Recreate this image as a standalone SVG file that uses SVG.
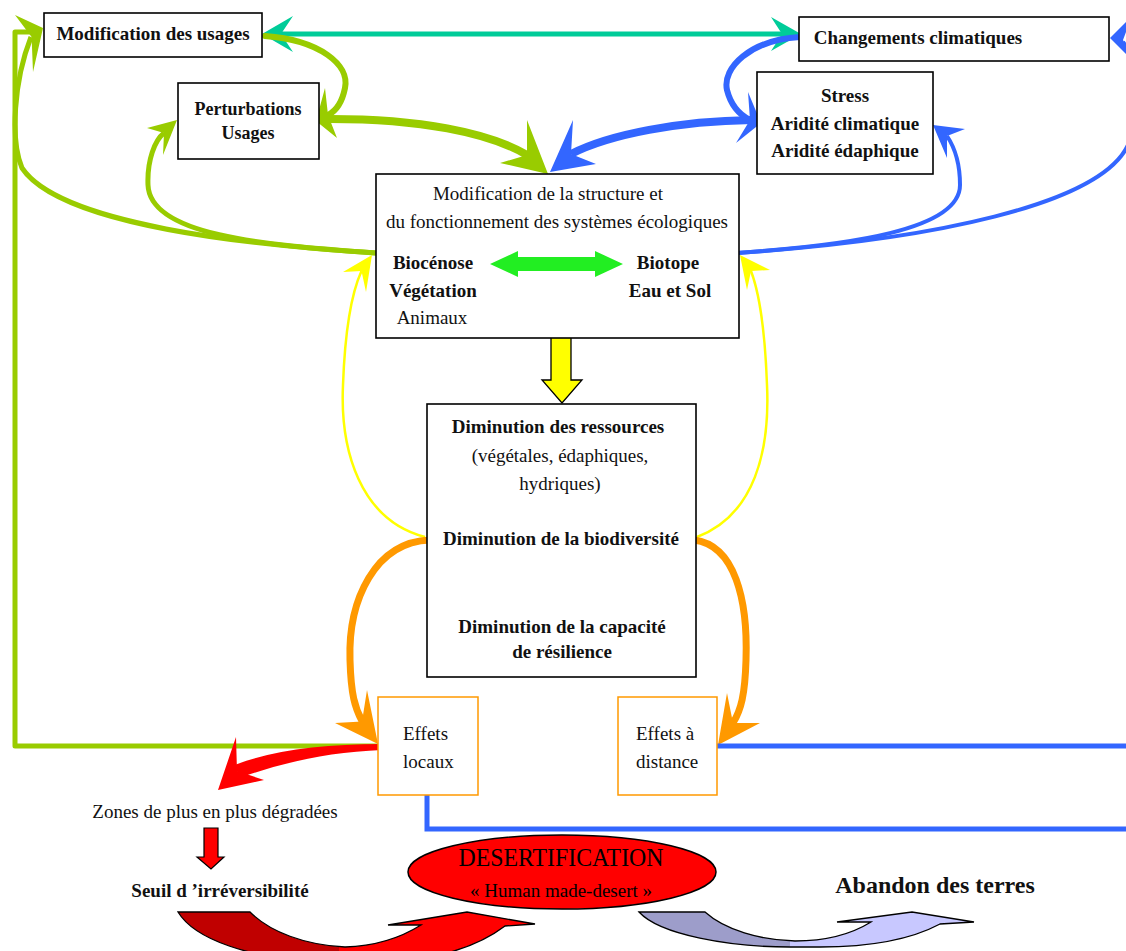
<svg xmlns="http://www.w3.org/2000/svg" width="1126" height="951" viewBox="0 0 1126 951">
<defs>
<style>
.box{fill:#fff;stroke:#000;stroke-width:1.6}
.obox{fill:#fff;stroke:#ff9900;stroke-width:1.5}
.t{font-family:"Liberation Serif","Times New Roman",serif;font-size:19px;fill:#111}
.b{font-weight:bold}
.c{text-anchor:middle}
.ln{fill:none}
.g{stroke:#99cc00}
.gf{fill:#99cc00}
.bl{stroke:#3366ff}
.bf{fill:#3366ff}
.y{stroke:#ffff00}
.yf{fill:#ffff00}
.o{stroke:#ff9900}
.of{fill:#ff9900}
.tl{stroke:#00cc99}
.tf{fill:#00cc99}
.rf{fill:#ff0000}
</style>
<marker id="vhead" viewBox="-8 -5 10 10" refX="0" refY="0" markerWidth="10" markerHeight="10" markerUnits="userSpaceOnUse" orient="auto">
<path d="M-7,-4 L0,0 L-7,4" fill="none" stroke="#000" stroke-width="1.3"/>
</marker>
<linearGradient id="redg" x1="178" x2="535" y1="0" y2="0" gradientUnits="userSpaceOnUse">
<stop offset="0" stop-color="#c00000"/><stop offset="0.45" stop-color="#c00000"/><stop offset="0.45" stop-color="#ff0000"/><stop offset="1" stop-color="#ff0000"/>
</linearGradient>
<linearGradient id="lavg" x1="639" x2="974" y1="0" y2="0" gradientUnits="userSpaceOnUse">
<stop offset="0" stop-color="#9d9dca"/><stop offset="0.45" stop-color="#9d9dca"/><stop offset="0.45" stop-color="#c8c8ff"/><stop offset="1" stop-color="#c8c8ff"/>
</linearGradient>
</defs>

<g id="connectors">
  <!-- teal double arrow -->
  <path class="ln tl" stroke-width="5" d="M281,34 H782"/>
  <polygon class="tf" points="262,34 293,16 281,34 293,52"/>
  <polygon class="tf" points="801,34 771,17 782,34 771,51"/>

  <!-- green: Modification des usages -> Perturbations -->
  <path class="ln g" stroke-width="6" stroke-linecap="round" d="M265,36 C320,40 350,65 345,88 C342,103 336,111 328,115"/>
  <polygon class="gf" points="316,121 325,88 328,115 337,138"/>
  <!-- green thick: Perturbations -> central -->
  <path class="ln g" stroke-width="8" stroke-linecap="round" d="M321,119 C420,118 490,133 527,155"/>
  <polygon class="gf" points="548,174 527,120 527,155 500,163"/>
  <!-- blue thick: Stress -> central -->
  <path class="ln bl" stroke-width="8" d="M752,120 C680,121 610,134 571,154"/>
  <polygon class="bf" points="550,172 573,120 571,154 596,164"/>
  <!-- blue: Changements -> Stress -->
  <path class="ln bl" stroke-width="6" stroke-linecap="round" d="M800,37 C750,40 722,68 727,90 C731,106 740,115 750,120"/>
  <polygon class="bf" points="761,123 748,92 750,120 736,143"/>

  <!-- green left big curve to Modification des usages -->
  <path class="ln g" stroke-width="5" d="M376,253 C250,245 60,225 22,168 C10,140 14,80 31,37"/>
  <!-- green polyline from Effets locaux -->
  <path class="ln g" stroke-width="5" stroke-linejoin="round" d="M381,746 H15 V32 H36"/>
  <polygon class="gf" points="43,28 15,15 31.6,37 33,72"/>
  <!-- green thin curve to Perturbations -->
  <path class="ln g" stroke-width="5" d="M376,253 C260,245 150,235 148,185 C147,160 155,140 164,133"/>
  <polygon class="gf" points="177,120 147,128 164,133 163,155"/>

  <!-- blue curves from central right -->
  <path class="ln bl" stroke-width="4" d="M737,253 C850,245 960,230 960,185 C960,165 955,148 947,136"/>
  <polygon class="bf" points="933,125 965,129 947,136 947,158"/>
  <path class="ln bl" stroke-width="4" d="M737,253 C930,240 1100,205 1128,145 C1145,100 1138,62 1123,42"/>
  <polygon class="bf" points="1110,38 1132,16 1123,40 1136,64"/>

  <!-- yellow feedback arrows -->
  <path class="ln y" stroke-width="2.5" d="M425,537 C360,520 340,450 343,385 C345,330 352,292 361.5,271"/>
  <polygon class="yf" points="372,255 343,272 361.5,271 366,292"/>
  <path class="ln y" stroke-width="2.5" d="M697,537 C755,515 770,450 767,385 C765,330 760,295 751,271"/>
  <polygon class="yf" points="740,255 770,270 751,271 747,290"/>

  <!-- orange arrows -->
  <path class="ln o" stroke-width="7" stroke-linecap="round" d="M430,540 C375,542 348,600 350,660 C351,695 355,708 362,721"/>
  <polygon class="of" points="378,744 335,723 362,721.5 367,690"/>
  <path class="ln o" stroke-width="7" stroke-linecap="round" d="M694,540 C735,545 748,600 746,660 C745,695 741,710 733,723"/>
  <polygon class="of" points="718,745 760,723 733,723 727,693"/>

  <!-- blue lines from effets boxes -->
  <path class="ln bl" stroke-width="5" d="M716,746 H1126"/>
  <path class="ln bl" stroke-width="5" d="M427,792 V829 H1126"/>

  <!-- red arrow to zones -->
  <path class="rf" d="M382,744 C320,744 270,751 232,766 L242,777 C285,762 330,752 382,750 Z"/>
  <polygon class="rf" points="218,790 236,737 237,771 264,780"/>

  <!-- yellow block arrow -->
  <path d="M551,337 H571 V380 H582 L562,403 L542,380 H551 Z" fill="#ffff00" stroke="#000" stroke-width="1.3"/>

  <!-- small black arrows -->
  <path class="ln" stroke="#000" stroke-width="1.3" d="M552,492 V513" marker-end="url(#vhead)"/>
  <path class="ln" stroke="#000" stroke-width="1.3" d="M552,560 V590" marker-end="url(#vhead)"/>

  <!-- red down block arrow -->
  <path d="M204,828 H218 V857 H224 L211,869 L197,857 H204 Z" fill="#ff0000" stroke="#000" stroke-width="1.2"/>

  <!-- bottom curved arrows -->
  <path d="M178,912 L250,912 C270,932 305,945 345,947 C380,946 405,935 421,925 L388,925 L467,912 L535,924 L505,926 C480,945 440,960 380,962 L320,962 C250,958 195,940 178,912 Z" fill="url(#redg)" stroke="#000" stroke-width="1.3"/>
  <path d="M639,912 L705,912 C725,930 760,940 795,941 C825,941 850,935 871,922 L837,922 L912,912 L974,922 L940,924 C910,940 870,947 820,947 L790,947 C730,947 660,935 639,912 Z" fill="url(#lavg)" stroke="#000" stroke-width="1.3"/>
</g>

<g id="node-modif-usages">
  <rect class="box" x="44" y="13" width="218" height="44"/>
  <text class="t b c" x="153" y="40">Modification des usages</text>
</g>
<g id="node-perturbations">
  <rect class="box" x="178" y="83" width="141" height="76"/>
  <text class="t b c" x="248" y="115" style="font-size:18px">Perturbations</text>
  <text class="t b c" x="248" y="139" style="font-size:18px">Usages</text>
</g>
<g id="node-changements">
  <rect class="box" x="799" y="17" width="310" height="44"/>
  <text class="t b c" x="918" y="44">Changements climatiques</text>
</g>
<g id="node-stress">
  <rect class="box" x="757" y="72" width="176" height="102"/>
  <text class="t b c" x="845" y="102">Stress</text>
  <text class="t b c" x="845" y="130">Aridité climatique</text>
  <text class="t b c" x="845" y="157">Aridité édaphique</text>
</g>
<g id="node-structure">
  <rect class="box" x="376" y="174" width="363" height="164"/>
  <text class="t c" x="548" y="200">Modification de la structure et</text>
  <text class="t c" x="557" y="228">du fonctionnement des systèmes écologiques</text>
  <text class="t b c" x="433" y="269">Biocénose</text>
  <text class="t b c" x="433" y="297">Végétation</text>
  <text class="t c" x="432" y="324">Animaux</text>
  <text class="t b c" x="668" y="269">Biotope</text>
  <text class="t b c" x="670" y="297">Eau et Sol</text>
  <path d="M490,264 L518,251 L518,257 L595,257 L595,251 L623,264 L595,277 L595,271 L518,271 L518,277 Z" fill="#22ee22"/>
</g>
<g id="node-diminution">
  <rect class="box" x="427" y="404" width="269" height="273"/>
  <text class="t b c" x="558" y="433">Diminution des ressources</text>
  <text class="t c" x="560" y="462">(végétales, édaphiques,</text>
  <text class="t c" x="560" y="490">hydriques)</text>
  <text class="t b c" x="561" y="545">Diminution de la biodiversité</text>
  <text class="t b c" x="562" y="633">Diminution de la capacité</text>
  <text class="t b c" x="562" y="658">de résilience</text>
</g>
<g id="node-effets-locaux">
  <rect class="obox" x="378" y="697" width="100" height="98"/>
  <text class="t" x="403" y="740">Effets</text>
  <text class="t" x="403" y="768">locaux</text>
</g>
<g id="node-effets-distance">
  <rect class="obox" x="618" y="697" width="99" height="98"/>
  <text class="t" x="636" y="740">Effets à</text>
  <text class="t" x="636" y="768">distance</text>
</g>
<g id="node-zones">
  <text class="t c" x="215" y="818">Zones de plus en plus dégradées</text>
</g>
<g id="node-seuil">
  <text class="t b c" x="220" y="897">Seuil d ’irréversibilité</text>
</g>
<g id="node-desertification">
  <ellipse cx="562" cy="872" rx="154" ry="37" fill="#ff0000" stroke="#000" stroke-width="1.5"/>
  <text class="t c" x="561" y="866" style="font-size:26px;fill:#000" textLength="205" lengthAdjust="spacingAndGlyphs">DESERTIFICATION</text>
  <text class="t c" x="561" y="897" style="font-size:18px;fill:#000" textLength="182" lengthAdjust="spacingAndGlyphs">« Human made-desert »</text>
</g>
<g id="node-abandon">
  <text class="t b c" x="935" y="893" style="font-size:24px">Abandon des terres</text>
</g>
</svg>
